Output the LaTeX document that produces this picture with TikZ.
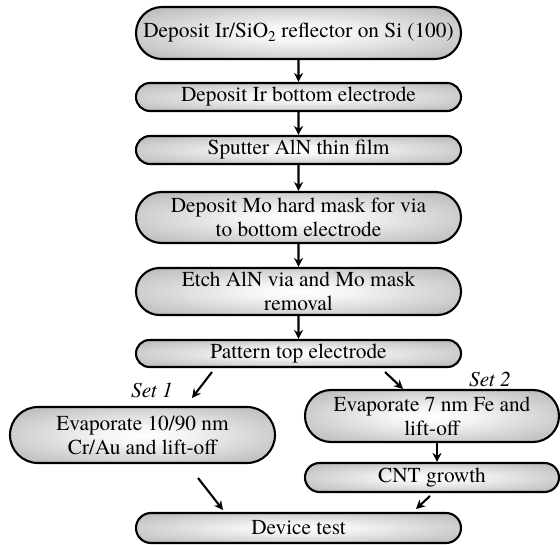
\documentclass[tikz,border=0pt]{standalone}
\usepackage{fontspec}
\setmainfont{texgyretermes}[Extension=.otf, UprightFont=*-regular, ItalicFont=*-italic, BoldFont=*-bold]
\usetikzlibrary{arrows.meta,shapes.misc}
\pgfdeclareradialshading{glow}{\pgfpointorigin}{color(0bp)=(white); color(8bp)=(white!96!black); color(50bp)=(black!42); color(72bp)=(black!55)}
\begin{document}
\begin{tikzpicture}[x=1pt,y=-1pt,
  box/.style={rounded rectangle, draw=black, line width=2.1pt, shading=glow, inner sep=0pt, align=center,
    font=\fontsize{21.3}{24}\selectfont},
  arr/.style={line width=2.1pt, -{Stealth[length=9pt,width=9pt,inset=3pt]}},
  lbl/.style={font=\fontsize{21.3}{24}\selectfont\itshape, inner sep=0pt}]
\useasboundingbox (0,0) rectangle (560,545);
\node[box, minimum width=325pt, minimum height=52pt] (n1) at (298.5,33) {Deposit Ir/SiO\textsubscript{2} reflector on Si (100)};
\node[box, minimum width=325pt, minimum height=28pt] (n2) at (298.5,97) {Deposit Ir bottom electrode};
\node[box, minimum width=325pt, minimum height=28pt] (n3) at (298.5,150) {Sputter AlN thin film};
\node[box, minimum width=325pt, minimum height=51pt] (n4) at (298.5,217.5) {Deposit Mo hard mask for via\\to bottom electrode};
\node[box, minimum width=325pt, minimum height=47pt] (n5) at (298.5,291.5) {Etch AlN via and Mo mask\\removal};
\node[box, minimum width=325pt, minimum height=27pt] (n6) at (298.5,353.5) {Pattern top electrode};
\node[box, minimum width=265pt, minimum height=56pt] (nL) at (142.5,435) {Evaporate 10/90 nm\\Cr/Au and lift-off};
\node[box, minimum width=254pt, minimum height=52pt] (nR) at (432,416) {Evaporate 7 nm Fe and\\lift-off};
\node[box, minimum width=254pt, minimum height=29pt] (nC) at (432,477.5) {CNT growth};
\node[box, minimum width=325pt, minimum height=30pt] (nD) at (298.5,528) {Device test};
\node[lbl] (s1) at (152,390) {Set 1};
\node[lbl] (s2) at (490,379) {Set 2};
\draw[arr] (n1) -- (n2);
\draw[arr] (n2) -- (n3);
\draw[arr] (n3) -- (n4);
\draw[arr] (n4) -- (n5);
\draw[arr] (n5) -- (n6);
\coordinate (a1s) at (212,372); \coordinate (a1e) at (192,398);
\coordinate (a2s) at (385,372); \coordinate (a2e) at (403,389);
\coordinate (a3s) at (198,478); \coordinate (a3e) at (223,510);
\coordinate (a4s) at (430,496); \coordinate (a4e) at (416,509);
\draw[arr] (a1s) -- (a1e);
\draw[arr] (a2s) -- (a2e);
\draw[arr] (a3s) -- (a3e);
\draw[arr] (a4s) -- (a4e);
\draw[arr] ([xshift=5pt]nR.south) -- ([xshift=5pt]nC.north);
\end{tikzpicture}
\end{document}
